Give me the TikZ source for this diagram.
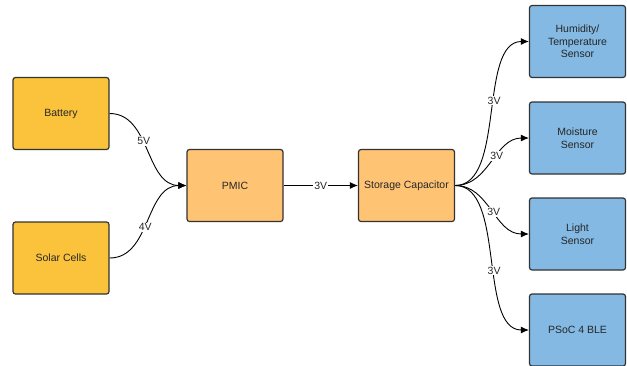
\documentclass[tikz,border=0pt]{standalone}
\usepackage{fontspec}
\setmainfont{Liberation Sans}
\usetikzlibrary{arrows.meta}
\definecolor{srcfill}{HTML}{FBC33C}
\definecolor{pwrfill}{HTML}{FFC374}
\definecolor{sensfill}{HTML}{83B9E3}
\definecolor{edge}{HTML}{333333}
\tikzset{
  block/.style={draw=edge, line width=1.2pt, rounded corners=2.5pt,
    minimum width=96pt, minimum height=72pt, inner sep=2pt,
    align=center, font=\fontsize{10.5}{12.5}\selectfont, text=black!85},
  source/.style={block, fill=srcfill},
  power/.style={block, fill=pwrfill},
  sensor/.style={block, fill=sensfill},
  wire/.style={draw=black, line width=0.9pt, -{Latex[length=8pt,width=7pt]}},
  volt/.style={fill=white, inner sep=1pt, font=\fontsize{10.5}{12}\selectfont, text=black!85}
}
\begin{document}
\begin{tikzpicture}[x=1pt,y=-1pt]
\useasboundingbox (0,0) rectangle (627,365);
% supply side
\node[source] (bat) at (61,113.5) {Battery};
\node[source] (sol) at (61,258) {Solar Cells};
\node[power] (pmic) at (235,185.5) {PMIC};
\node[power] (cap) at (406.5,185.5) {Storage Capacitor};
% loads
\node[sensor] (hum) at (577.5,41.5) {Humidity/\\Temperature\\Sensor};
\node[sensor] (moi) at (577.5,138) {Moisture\\Sensor};
\node[sensor] (lig) at (577.5,234) {Light\\Sensor};
\node[sensor] (psoc) at (577.5,330) {PSoC 4 BLE};
% connections
\draw[wire] (bat.east) to[out=0,in=180] node[volt,pos=0.42] {5V} (pmic.west);
\draw[wire] (sol.east) to[out=0,in=180] node[volt,pos=0.45] {4V} (pmic.west);
\draw[wire] (pmic.east) -- node[volt] {3V} (cap.west);
\draw[wire] (cap.east) to[out=0,in=180,looseness=0.8] node[volt,pos=0.56] {3V} (hum.west);
\draw[wire] (cap.east) to[out=0,in=180] node[volt,pos=0.58] {3V} (moi.west);
\draw[wire] (cap.east) to[out=0,in=180] node[volt,pos=0.53] {3V} (lig.west);
\draw[wire] (cap.east) to[out=0,in=180,looseness=0.8] node[volt,pos=0.56] {3V} (psoc.west);
\end{tikzpicture}
\end{document}
